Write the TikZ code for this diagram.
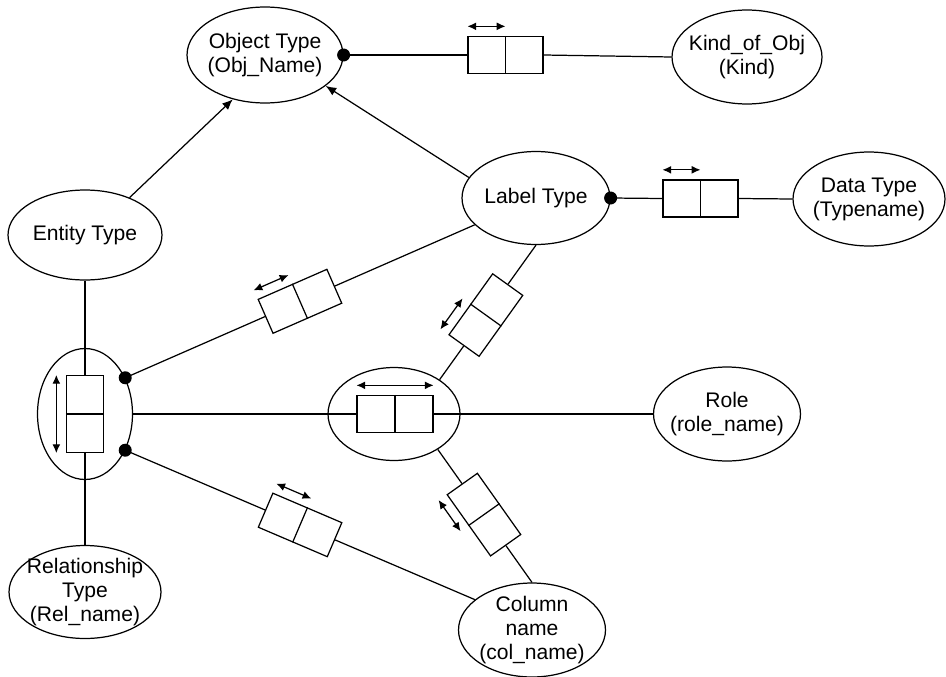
\documentclass[tikz,border=0pt]{standalone}
\usepackage{fontspec}
\setmainfont{Liberation Sans}
\usetikzlibrary{shapes.geometric,arrows.meta,calc}
\begin{document}
\begin{tikzpicture}[x=0.02cm, y=-0.02cm, line width=0.7pt,
  ov/.style={ellipse, draw, inner sep=0pt},
  txt/.style={align=center, font=\fontsize{12}{13.6}\selectfont, inner sep=0pt},
  rolebox/.style={rectangle, draw, fill=white, inner sep=0pt,
                  minimum width=1.5cm, minimum height=0.74cm},
  uc/.style={{Latex[length=5pt,width=4.5pt]}-{Latex[length=5pt,width=4.5pt]}},
  sub/.style={-{Latex[length=6pt,width=5pt]}},
  joint/.style={circle, fill=black, inner sep=0pt, minimum size=0.26cm}]

\useasboundingbox (0,0) rectangle (946,676);

% object types
\node[ov, minimum width=3.12cm, minimum height=1.92cm,
      label={[txt,name=objT]center:Object Type\\(Obj\_Name)}] (obj) at (265,55) {};
\node[ov, minimum width=3.0cm, minimum height=1.88cm,
      label={[txt,name=kindT]center:Kind\_of\_Obj\\(Kind)}] (kind) at (747,57) {};
\node[ov, minimum width=2.96cm, minimum height=1.86cm,
      label={[txt,name=labelT]center:Label Type}] (label) at (536,198) {};
\node[ov, minimum width=3.04cm, minimum height=1.88cm,
      label={[txt,name=dataT]center:Data Type\\(Typename)}] (data) at (869,199) {};
\node[ov, minimum width=3.08cm, minimum height=1.8cm,
      label={[txt,name=entityT]center:Entity Type}] (entity) at (85,235) {};
\node[ov, minimum width=1.9cm, minimum height=2.62cm] (relell) at (85,414) {};
\node[ov, minimum width=2.64cm, minimum height=1.86cm] (cen) at (394,414) {};
\node[ov, minimum width=2.94cm, minimum height=1.88cm,
      label={[txt,name=roleT]center:Role\\(role\_name)}] (role) at (727,414) {};
\node[ov, minimum width=2.94cm, minimum height=1.88cm,
      label={[txt,name=colT]center:Column\\name\\(col\_name)}] (column) at (532,630) {};
\node[ov, minimum width=3.04cm, minimum height=1.86cm,
      label={[txt,name=relT]center:Relationship\\Type\\(Rel\_name)}] (reltype) at (85,592) {};

% mandatory-role dots
\node[joint] (j0) at (obj.east) {};
\node[joint] (j1) at (label.east) {};
\node[joint] (j2) at (relell.42) {};
\node[joint] (j3) at (relell.-42) {};

% subtype arrows
\draw[sub] (entity.40) -- (obj.-126);
\draw[sub] (label.163) -- (obj.-27);

% Object Type -- Kind_of_Obj
\node[rolebox] (fo) at (505.5,55) {};
\draw (fo.north) -- (fo.south);
\draw (j0.center) -- (fo.west);
\draw (fo.east) -- (kind.west);
\draw[uc] ($(fo.north west)!-0.5!(fo.west)$) -- ($(fo.north)!-0.5!(fo.center)$);

% Label Type -- Data Type
\node[rolebox] (fd) at (700.5,198.5) {};
\draw (fd.north) -- (fd.south);
\draw (j1.center) -- (fd.west);
\draw (fd.east) -- (data.west);
\draw[uc] ($(fd.north west)!-0.5!(fd.west)$) -- ($(fd.north)!-0.5!(fd.center)$);

% relationship (nested) -- Entity Type / Relationship Type
\node[rolebox, rotate=90, minimum width=1.54cm] (fr) at (85,414) {};
\draw (fr.north) -- (fr.south);
\draw (entity.south) -- (fr.east);
\draw (fr.west) -- (reltype.north);
\draw[uc] ($(fr.north west)!-0.5!(fr.west)$) -- ($(fr.north east)!-0.5!(fr.east)$);

% role (nested) -- Role
\node[rolebox, minimum width=1.52cm] (fc) at (395,414) {};
\draw (fc.north) -- (fc.south);
\draw (relell.east) -- (fc.west);
\draw (fc.east) -- (role.west);
\draw[uc] ($(fc.north west)!-0.5!(fc.west)$) -- ($(fc.north east)!-0.5!(fc.east)$);

% relationship -- Label Type
\path (j2.center) -- (label) node[rolebox, sloped, pos=0.5] (fu) {};
\draw (fu.north) -- (fu.south);
\draw (j2.center) -- (fu.west);
\draw (fu.east) -- (label);
\draw[uc] ($(fu.north west)!-0.5!(fu.west)$) -- ($(fu.north)!-0.5!(fu.center)$);

% relationship -- Column name
\path (j3.center) -- (column.152) node[rolebox, sloped, pos=0.5] (fl) {};
\draw (fl.north) -- (fl.south);
\draw (j3.center) -- (fl.west);
\draw (fl.east) -- (column.152);
\draw[uc] ($(fl.north west)!-0.5!(fl.west)$) -- ($(fl.north)!-0.5!(fl.center)$);

% role -- Label Type
\path (cen.37) -- (label.south) node[rolebox, sloped, pos=0.48] (fa) {};
\draw (fa.north) -- (fa.south);
\draw (cen.37) -- (fa.west);
\draw (fa.east) -- (label.south);
\draw[uc] ($(fa.north west)!-0.5!(fa.west)$) -- ($(fa.north)!-0.5!(fa.center)$);

% role -- Column name
\path (cen.-39) -- (column.north) node[rolebox, sloped, pos=0.49] (fb) {};
\draw (fb.north) -- (fb.south);
\draw (cen.-39) -- (fb.west);
\draw (fb.east) -- (column.north);
\draw[uc] ($(fb.south west)!-0.5!(fb.west)$) -- ($(fb.south)!-0.5!(fb.center)$);

\end{tikzpicture}
\end{document}
